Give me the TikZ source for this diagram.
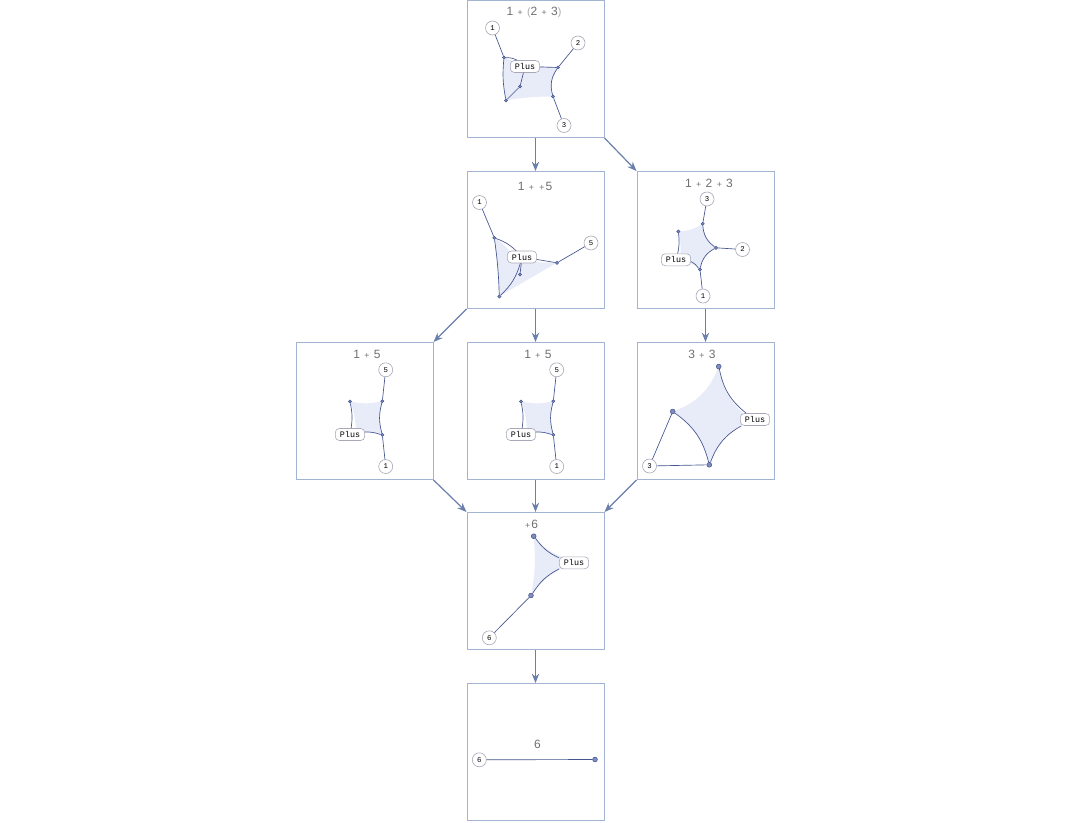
\documentclass[tikz,border=0pt]{standalone}
\usepackage{fontspec}
\setmainfont{Liberation Sans}
\setmonofont{Liberation Mono}
\usetikzlibrary{arrows.meta}
\definecolor{boxc}{HTML}{A3B3D2}
\definecolor{arrc}{HTML}{6A7FAA}
\definecolor{edgec}{HTML}{45558F}
\definecolor{fillc}{HTML}{E8EBF8}
\definecolor{labc}{HTML}{A8A8B8}
\definecolor{titc}{HTML}{707070}
\definecolor{dotc}{HTML}{7F8CC0}
\newcommand\splus{\kern0.8pt{\fontsize{6.5}{6.5}\selectfont+}\kern0.8pt}
\newcommand\lparen[1]{{\color{titc!60}\fontsize{8}{8}\selectfont#1}}
\begin{document}
\begin{tikzpicture}[x=0.75pt,y=-0.75pt,
 panel/.style={draw=boxc,line width=0.75pt,minimum width=102.75pt,minimum height=102.75pt,inner sep=0pt},
 flow/.style={draw=arrc,line width=0.9pt,-{Stealth[length=7pt,width=5.5pt]}},
 title/.style={text=titc,font=\fontsize{9}{10}\selectfont,inner sep=0pt},
 vlab/.style={draw=labc,line width=0.45pt,fill=white,circle,minimum size=10.5pt,inner sep=0pt,font=\ttfamily\fontsize{5.5}{5.5}\selectfont},
 plab/.style={draw=labc,line width=0.45pt,fill=white,rounded corners=3pt,minimum width=22pt,minimum height=9pt,inner sep=0pt,font=\ttfamily\fontsize{6.3}{6.5}\selectfont},
 dot/.style={circle,draw=edgec,fill=dotc,line width=0.4pt,minimum size=2.4pt,inner sep=0pt},
 bigdot/.style={dot,minimum size=3.6pt},
 edge/.style={draw=edgec,line width=0.5pt},
 region/.style={fill=fillc}]
\fill[white] (0,0) rectangle (1073,822);

% ---------------- panels
\node[panel] (b1) at (535.5,68.5) {};
\node[panel] (b2) at (535.5,239.5) {};
\node[panel] (b3) at (705.5,239.5) {};
\node[panel] (b4) at (364.5,410.5) {};
\node[panel] (b5) at (535.5,410.5) {};
\node[panel] (b6) at (705.5,410.5) {};
\node[panel] (b7) at (535.5,580.5) {};
\node[panel] (b8) at (535.5,751.5) {};

\draw[flow] (b1.south) -- (b2.north);
\draw[flow] (b1.south east) -- (b3.north west);
\draw[flow] (b2.south west) -- (b4.north east);
\draw[flow] (b2.south) -- (b5.north);
\draw[flow] (b3.south) -- (b6.north);
\draw[flow] (b4.south east) -- (b7.north west);
\draw[flow] (b5.south) -- (b7.north);
\draw[flow] (b6.south west) -- (b7.north east);
\draw[flow] (b7.south) -- (b8.north);

% ---------------- titles
\node[title] (t1) at (534,12) {1 \splus\ \lparen{(}2 \splus\ 3\lparen{)}};
\node[title] (t2) at (535,186) {1 \splus\ \splus5};
\node[title] (t3) at (709,183) {1 \splus\ 2 \splus\ 3};
\node[title] (t4) at (367,354) {1 \splus\ 5};
\node[title] (t5) at (538,354) {1 \splus\ 5};
\node[title] (t6) at (702,354) {3 \splus\ 3};
\node[title] (t7) at (531,524) {\splus6};
\node[title] (t8) at (537.5,744) {6};

% ---------------- panel 1 : 1 + (2 + 3)
\fill[region] (504,57) to[bend left=5] (518,64) -- (558,67) to[bend right=25] (553,96) to[bend right=5] (506,100) to[bend left=8] cycle;
\node[dot] (d1a) at (504,57) {};
\node[dot] (d1b) at (520,86) {};
\node[dot] (d1c) at (506,100) {};
\node[dot] (d1d) at (558,67) {};
\node[dot] (d1e) at (553,96) {};
\node[plab] (p1) at (525,66) {Plus};
\node[vlab] (v11) at (492.5,27.5) {1};
\node[vlab] (v12) at (578,42.5) {2};
\node[vlab] (v13) at (564,125) {3};
\draw[edge] (v11) -- (d1a);
\draw[edge] (d1a) to[bend right=8] (d1c);
\draw[edge] (d1c) -- (d1b) -- (p1);
\draw[edge] (d1a) to[bend left=15] (p1);
\draw[edge] (p1) -- (d1d);
\draw[edge] (d1d) -- (v12);
\draw[edge] (d1d) to[bend right=25] (d1e);
\draw[edge] (d1e) -- (v13);

% ---------------- panel 2 : 1 + +5
\fill[region] (494,237) to[bend left=10] (512,254) -- (540,262) -- (557,262) -- (499,296) to[bend right=3] cycle;
\node[dot] (d2a) at (494.3,237.3) {};
\node[dot] (d2b) at (520,274) {};
\node[dot] (d2c) at (499.3,296) {};
\node[dot] (d2d) at (557,262.3) {};
\node[plab] (p2) at (522,256.5) {Plus};
\node[vlab] (v21) at (479.5,202) {1};
\node[vlab] (v25) at (591,242.5) {5};
\draw[edge] (v21) -- (d2a);
\draw[edge] (d2a) to[bend left=3] (d2c);
\draw[edge] (d2c) to[bend right=15] (p2);
\draw[edge] (d2b) -- (p2);
\draw[edge] (d2a) to[bend left=12] (p2);
\draw[edge] (p2) -- (d2d);
\draw[edge] (d2d) -- (v25);

% ---------------- panel 3 : 1 + 2 + 3
\fill[region] (678.3,231) to[bend right=15] (702.7,223.3) to[bend right=25] (716,247.3) to[bend right=25] (700,269) to[bend right=15] (680,259) to[bend right=10] cycle;
\node[dot] (d3a) at (702.7,223.3) {};
\node[dot] (d3b) at (716,247.3) {};
\node[dot] (d3c) at (700,269) {};
\node[dot] (d3f) at (678.3,231) {};
\node[plab] (p3) at (676,259.3) {Plus};
\node[vlab] (v33) at (707,198.5) {3};
\node[vlab] (v32) at (742.5,249) {2};
\node[vlab] (v31) at (703,295.5) {1};
\draw[edge] (v33) -- (d3a);
\draw[edge] (d3a) to[bend right=25] (d3b);
\draw[edge] (d3b) -- (v32);
\draw[edge] (d3b) to[bend right=25] (d3c);
\draw[edge] (d3c) -- (v31);
\draw[edge] (d3c) to[bend right=15] (p3);
\draw[edge] (d3f) to[bend left=10] (p3);

% ---------------- panel 6 : 3 + 3
\fill[region] (672.7,411) to[bend right=25] (718.7,366) to[bend right=20] (750,419) to[bend right=20] (709.3,464.3) to[bend right=20] cycle;
\node[bigdot] (d6t) at (718.7,366) {};
\node[bigdot] (d6l) at (672.7,411) {};
\node[bigdot] (d6b) at (709.3,464.3) {};
\node[plab] (p6) at (755,419) {Plus};
\node[vlab] (v63) at (649.5,465.5) {3};
\draw[edge] (v63) -- (d6l);
\draw[edge] (v63) -- (d6b);
\draw[edge] (d6l) to[bend left=20] (d6b);
\draw[edge] (d6t) to[bend right=20] (p6);
\draw[edge] (p6) to[bend right=20] (d6b);

% ---------------- panels 4 and 5 : 1 + 5
\foreach \dx/\nm in {0/4,171/5}{
  \fill[region] (350+\dx,401) to[bend right=12] (382.3+\dx,400.7) to[bend right=15] (382.3+\dx,434.3) to[bend right=10] (356+\dx,432) to[bend right=10] cycle;
  \node[dot] (d\nm f) at (350+\dx,401) {};
  \node[dot] (d\nm a) at (382.3+\dx,400.7) {};
  \node[dot] (d\nm b) at (382.3+\dx,434.3) {};
  \node[plab] (p\nm) at (350+\dx,434) {Plus};
  \node[vlab] (v\nm5) at (385.7+\dx,369.3) {5};
  \node[vlab] (v\nm1) at (385.7+\dx,466) {1};
  \draw[edge] (v\nm5) -- (d\nm a);
  \draw[edge] (d\nm a) to[bend right=15] (d\nm b);
  \draw[edge] (d\nm b) -- (v\nm1);
  \draw[edge] (d\nm b) to[bend right=10] (p\nm);
  \draw[edge] (d\nm f) to[bend left=10] (p\nm);
}

% ---------------- panel 7 : +6
\fill[region] (533.7,535.7) to[bend right=15] (566,558) -- (566,566) to[bend right=15] (531,595) to[bend right=8] cycle;
\node[bigdot] (d7t) at (533.7,535.7) {};
\node[bigdot] (d7m) at (531,595) {};
\node[plab] (p7) at (574,562.3) {Plus};
\node[vlab] (v76) at (489.3,637.3) {6};
\draw[edge] (v76) -- (d7m);
\draw[edge] (d7m) to[bend left=15] (p7);
\draw[edge] (d7t) to[bend right=15] (p7);

% ---------------- panel 8 : 6
\node[bigdot] (d8) at (595,759) {};
\node[vlab] (v86) at (479.3,759.3) {6};
\draw[edge] (v86) -- (d8);
\end{tikzpicture}
\end{document}
